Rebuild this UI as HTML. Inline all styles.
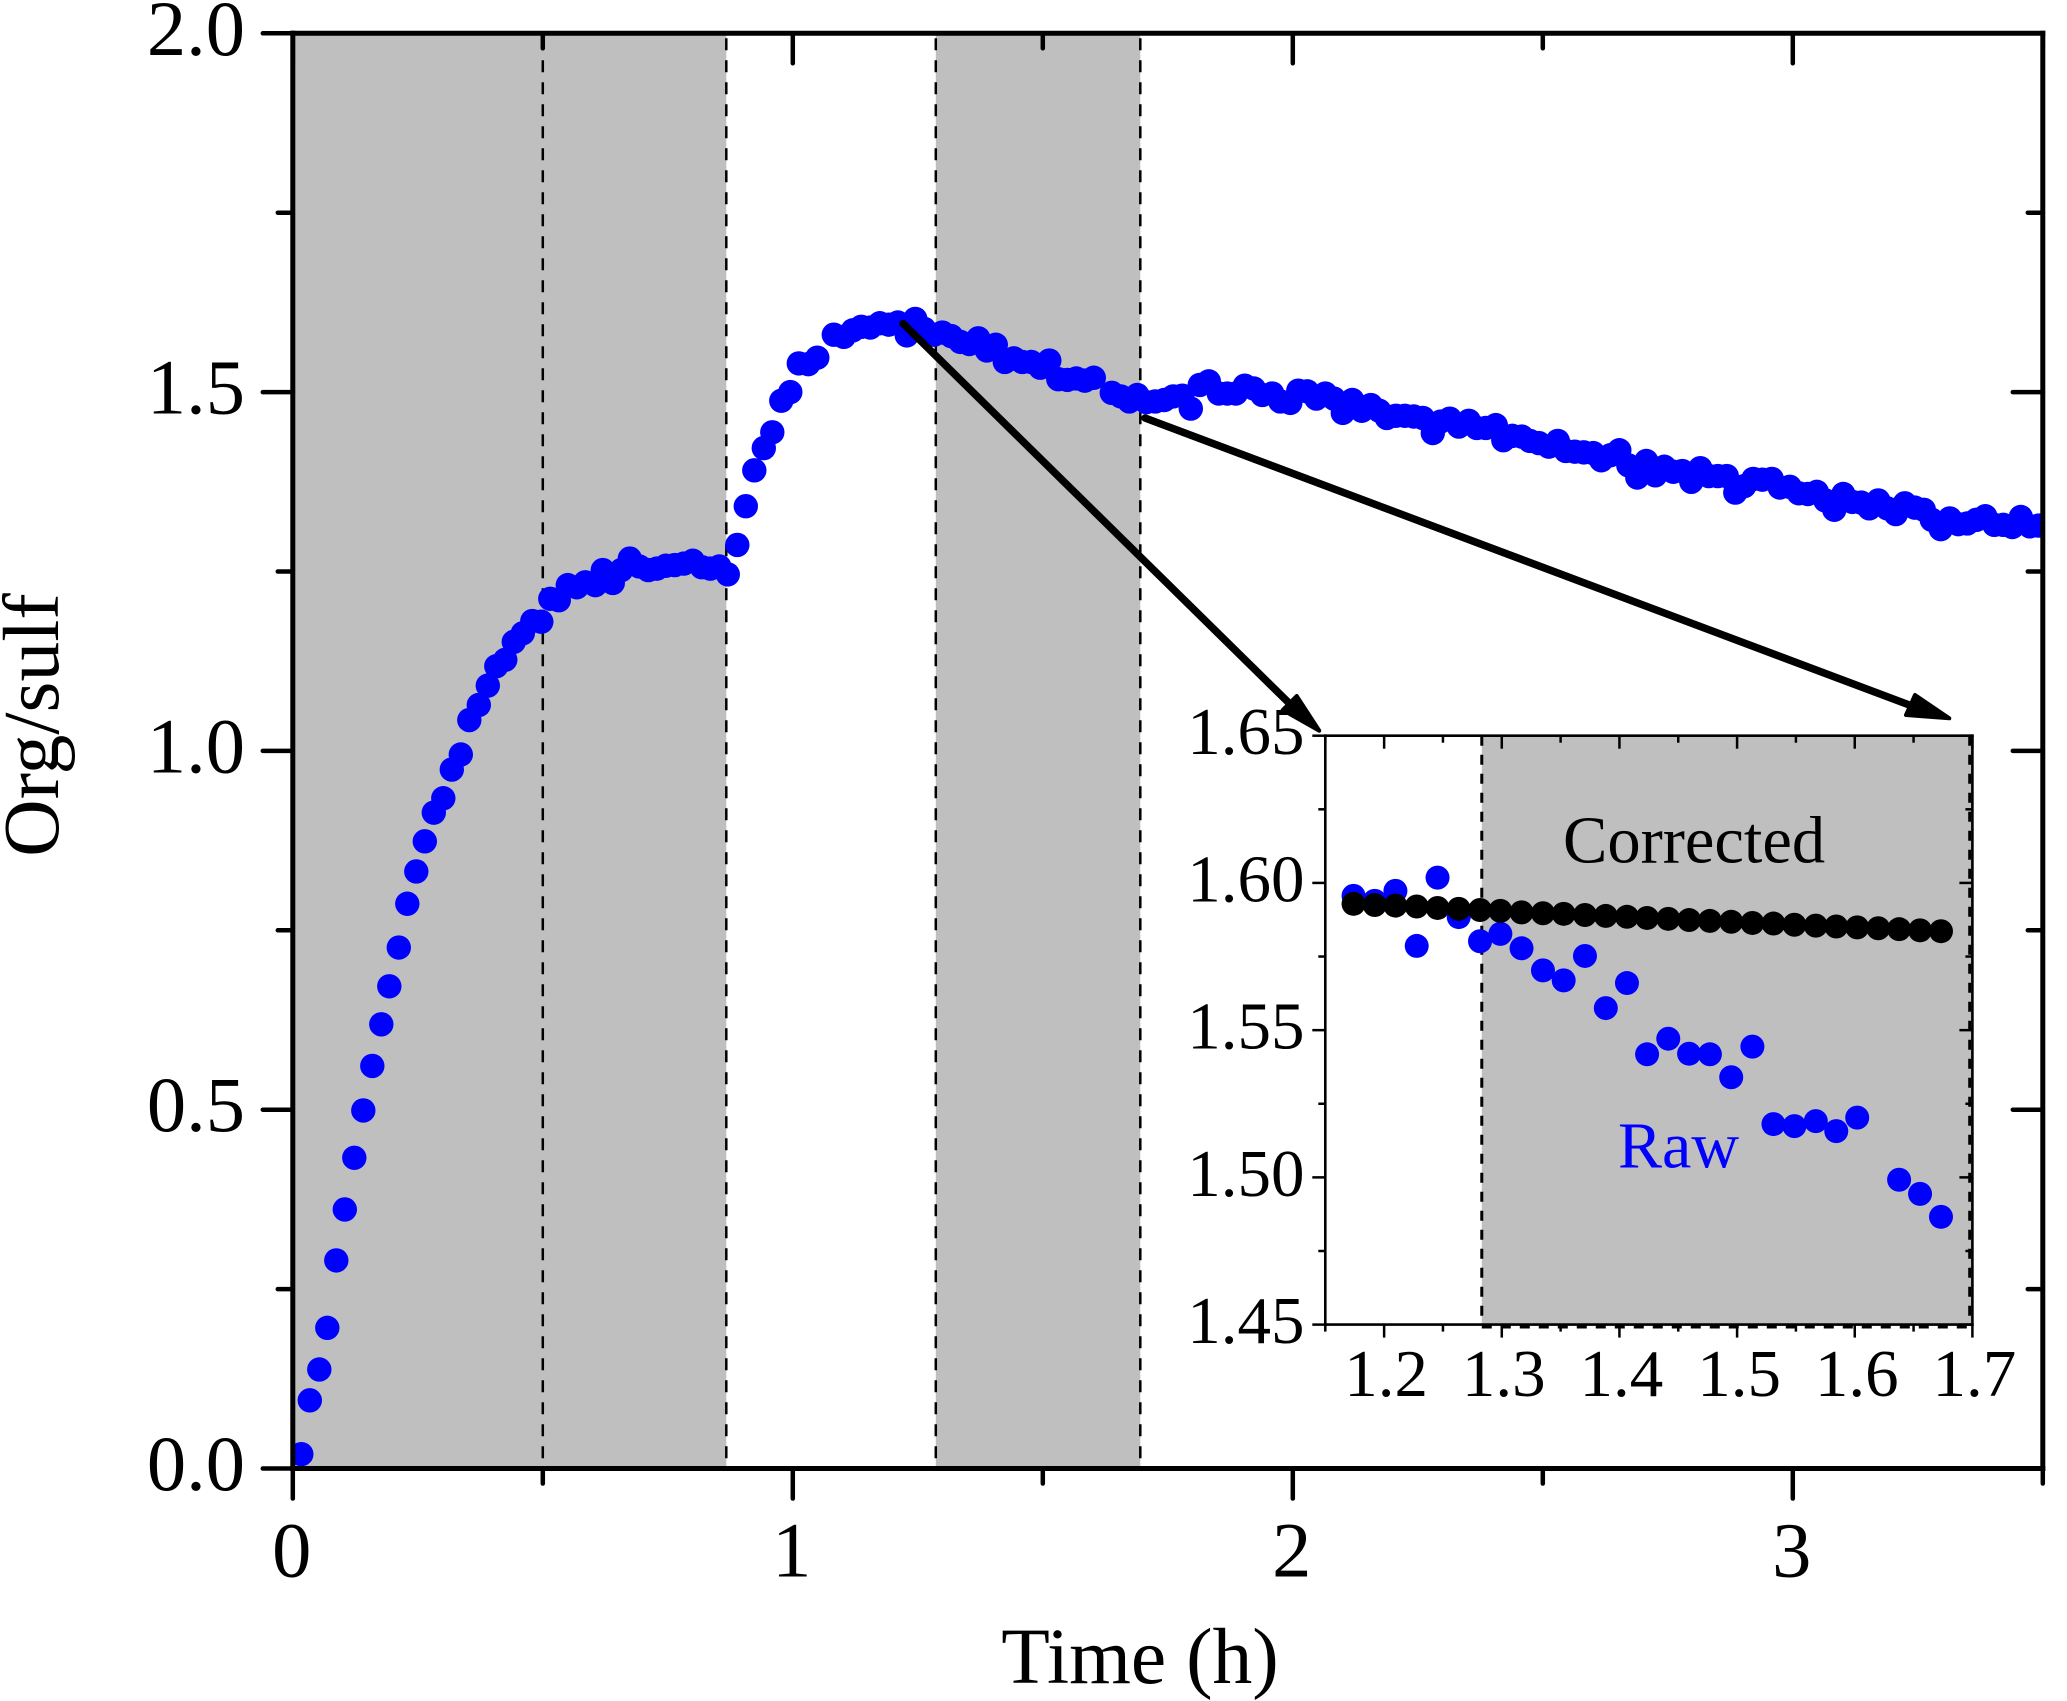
<!DOCTYPE html>
<html lang="en">
<head>
<meta charset="utf-8">
<title>Org/sulf vs Time</title>
<style>
html,body{margin:0;padding:0;background:#fff;}
svg{display:block;font-family:"Liberation Serif",serif;}
</style>
</head>
<body>
<svg id="chart" xmlns="http://www.w3.org/2000/svg" width="2067" height="1701" viewBox="0 0 2067 1701">
  <defs>
    <clipPath id="main-clip"><rect x="292.8" y="33.3" width="1750" height="1435.2"/></clipPath>
  </defs>
  <g id="main-shading"></g>
  <g id="main-dots" clip-path="url(#main-clip)"></g>
  <g id="main-axes"></g>
  <g id="inset-shading"></g>
  <g id="inset-raw"></g>
  <g id="inset-corrected"></g>
  <g id="inset-axes"></g>
  <g>
    <line x1="903" y1="323.5" x2="1292" y2="706" stroke="#000" stroke-width="7.5" stroke-linecap="round"/>
    <polygon points="1319.3,730.7 1296.7,696 1282.7,710" fill="#000" stroke="#000" stroke-width="4" stroke-linejoin="round"/>
  </g>
  <g>
    <line x1="1145" y1="418" x2="1912" y2="706" stroke="#000" stroke-width="7.5" stroke-linecap="round"/>
    <polygon points="1949.3,718.3 1915,695 1906,715" fill="#000" stroke="#000" stroke-width="4" stroke-linejoin="round"/>
  </g>
  <text x="1140" y="1683" font-size="79.5" text-anchor="middle" fill="#000">Time (h)</text>
  <text transform="translate(58 725) rotate(-90)" font-size="79.5" text-anchor="middle" fill="#000">Org/sulf</text>
  <text x="1563" y="862.7" font-size="66.5" fill="#000">Corrected</text>
  <text x="1618" y="1167.7" font-size="66" fill="#0000ff">Raw</text>
</svg>
<script>
// ---- main chart data ----
const mainTimes = [
  0.017,0.034,0.053,0.069,0.087,0.104,0.123,0.141,0.159,0.177,
  0.193,0.212,0.229,0.247,0.264,0.282,0.301,0.318,0.336,0.353,
  0.372,0.390,0.407,0.425,0.442,0.460,0.479,0.497,0.515,0.532,
  0.550,0.568,0.585,0.605,0.620,0.640,0.657,0.674,0.693,0.711,
  0.728,0.746,0.764,0.782,0.800,0.818,0.835,0.853,0.870,0.889,
  0.906,0.923,0.942,0.959,0.977,0.995,1.012,1.031,1.049,1.082,
  1.102,1.120,1.137,1.155,1.174,1.192,1.210,1.228,1.245,1.263,
  1.282,1.299,1.317,1.335,1.353,1.371,1.388,1.406,1.424,1.442,
  1.459,1.477,1.495,1.513,1.531,1.549,1.567,1.584,1.602,1.638,
  1.656,1.673,1.689,1.707,1.725,1.743,1.761,1.779,1.796,1.814,
  1.832,1.852,1.869,1.886,1.904,1.922,1.939,1.959,1.975,1.995,
  2.011,2.029,2.047,2.065,2.082,2.100,2.119,2.138,2.156,2.173,
  2.188,2.206,2.224,2.242,2.260,2.280,2.296,2.314,2.332,2.352,
  2.368,2.386,2.406,2.421,2.439,2.458,2.474,2.492,2.512,2.530,
  2.546,2.564,2.582,2.601,2.617,2.635,2.653,2.671,2.689,2.707,
  2.725,2.743,2.761,2.779,2.797,2.815,2.832,2.850,2.868,2.885,
  2.903,2.921,2.939,2.958,2.974,2.994,3.012,3.030,3.048,3.065,
  3.083,3.101,3.119,3.137,3.153,3.171,3.189,3.206,3.224,3.244,
  3.262,3.278,3.296,3.314,3.331,3.349,3.367,3.385,3.403,3.421,
  3.439,3.456,3.474,3.492,3.510
];
const mainValues = [
  0.020,0.095,0.138,0.196,0.290,0.361,0.433,0.499,0.561,0.619,
  0.672,0.726,0.787,0.832,0.874,0.914,0.934,0.974,0.995,1.043,
  1.064,1.091,1.118,1.127,1.152,1.164,1.181,1.180,1.212,1.210,
  1.231,1.228,1.235,1.231,1.252,1.234,1.252,1.268,1.257,1.252,
  1.254,1.258,1.259,1.261,1.265,1.256,1.254,1.257,1.246,1.287,
  1.341,1.391,1.422,1.444,1.488,1.500,1.540,1.539,1.548,1.580,
  1.577,1.586,1.591,1.590,1.596,1.594,1.597,1.579,1.602,1.588,
  1.580,1.583,1.578,1.570,1.567,1.575,1.558,1.566,1.542,1.547,
  1.542,1.542,1.534,1.544,1.518,1.517,1.519,1.516,1.520,1.499,
  1.494,1.487,1.496,1.486,1.487,1.489,1.494,1.495,1.477,1.510,
  1.515,1.498,1.498,1.498,1.509,1.505,1.496,1.498,1.487,1.485,
  1.502,1.501,1.491,1.498,1.491,1.471,1.489,1.474,1.482,1.474,
  1.464,1.467,1.467,1.466,1.464,1.443,1.459,1.463,1.452,1.460,
  1.450,1.450,1.454,1.433,1.439,1.438,1.432,1.429,1.424,1.432,
  1.418,1.417,1.416,1.415,1.405,1.412,1.419,1.398,1.381,1.404,
  1.384,1.396,1.389,1.390,1.375,1.394,1.383,1.383,1.383,1.360,
  1.369,1.379,1.378,1.379,1.367,1.368,1.359,1.358,1.361,1.349,
  1.336,1.358,1.347,1.346,1.338,1.349,1.338,1.330,1.345,1.339,
  1.336,1.322,1.309,1.324,1.316,1.317,1.322,1.327,1.315,1.315,
  1.312,1.326,1.313,1.314,1.314
];
const mainShadedStarts = [0, 1.286];
const mainShadedEnds = [0.867, 1.695];
const mainDashedTimes = [0.5, 0.867, 1.286, 1.695];
const mainXMajorTicks = [0, 1, 2, 3];
const mainXMinorTicks = [0.5, 1.5, 2.5, 3.5];
const mainYMajorTicks = [0, 0.5, 1, 1.5, 2];
const mainYMinorTicks = [0.25, 0.75, 1.25, 1.75];
const mainXTickLabels = ["0", "1", "2", "3"];
const mainYTickLabels = ["0.0", "0.5", "1.0", "1.5", "2.0"];

// ---- inset chart data ----
const insetRawTimes = [
  1.174,1.192,1.2096,1.2277,1.2454,1.2634,1.2815,1.2988,1.3168,1.335,
  1.3526,1.3707,1.3884,1.4064,1.4235,1.4415,1.4592,1.4769,1.495,1.513,
  1.5309,1.5487,1.5669,1.5843,1.6021,1.6377,1.6555,1.6733
];
const insetRawValues = [
  1.5956,1.5939,1.5973,1.5786,1.6018,1.5884,1.5802,1.5827,1.5778,1.5703,
  1.5669,1.5752,1.5575,1.566,1.5418,1.5471,1.542,1.5418,1.534,1.5444,
  1.5181,1.5174,1.5191,1.5157,1.5203,1.4992,1.4944,1.4866
];
const insetCorrectedTimes = [
  1.174,1.192,1.2096,1.2277,1.2454,1.2634,1.2815,1.2988,1.3168,1.335,
  1.3526,1.3707,1.3884,1.4064,1.4235,1.4415,1.4592,1.4769,1.495,1.513,
  1.5309,1.5487,1.5669,1.5843,1.6021,1.62,1.6377,1.6555,1.6733
];
const insetCorrectedValues = [
  1.5929,1.5925,1.5923,1.5920,1.5915,1.5912,1.5908,1.5905,1.5900,1.5897,
  1.5895,1.5891,1.5888,1.5885,1.5881,1.5878,1.5874,1.5871,1.5868,1.5864,
  1.5862,1.5858,1.5855,1.5852,1.5849,1.5846,1.5843,1.5839,1.5836
];
const insetShadeStart = [1.283];
const insetShadeEnd = [1.7];
const insetXMajorTicks = [1.2, 1.3, 1.4, 1.5, 1.6, 1.7];
const insetXMinorTicks = [1.15, 1.25, 1.35, 1.45, 1.55, 1.65];
const insetYMajorTicks = [1.45, 1.5, 1.55, 1.6, 1.65];
const insetYMinorTicks = [1.475, 1.525, 1.575, 1.625];
const insetXTickLabels = ["1.2", "1.3", "1.4", "1.5", "1.6", "1.7"];
const insetYTickLabels = ["1.45", "1.50", "1.55", "1.60", "1.65"];

// ---- axis functions ----
const NS = "http://www.w3.org/2000/svg";
const mainLeft = 292.8, mainRight = 2042.8, mainTop = 33.3, mainBottom = 1468.5;
const insetLeft = 1325.3, insetRight = 1972.4, insetTop = 735.7, insetBottom = 1324.6;
function mainX(t) { return mainLeft + (t - 0) / 3.5 * (mainRight - mainLeft); }
function mainY(v) { return mainBottom - (v - 0) / 2 * (mainBottom - mainTop); }
function insetX(t) { return insetLeft + (t - 1.15) / 0.55 * (insetRight - insetLeft); }
function insetY(v) { return insetBottom - (v - 1.45) / 0.2 * (insetBottom - insetTop); }

function shape(tag, attrs) {
  const el = document.createElementNS(NS, tag);
  for (const k in attrs) el.setAttribute(k, attrs[k]);
  return el;
}
function strokeAttrs(x1, y1, x2, y2, w, cap) {
  return { x1: x1, y1: y1, x2: x2, y2: y2, stroke: "#000", "stroke-width": w, "stroke-linecap": cap || "round" };
}

// ---- main shading ----
const mainShadingGroup = document.getElementById("main-shading");
mainShadedStarts.forEach(function (start, i) {
  const r = shape("rect", { x: mainX(start), y: mainTop, width: mainX(mainShadedEnds[i]) - mainX(start), height: mainBottom - mainTop, fill: "#bfbfbf" });
  
  
  mainShadingGroup.appendChild(r);
});
mainDashedTimes.forEach(function (t) {
  const attrs = strokeAttrs(mainX(t), mainTop + 5, mainX(t), mainBottom, 2.5, "butt");
  attrs["stroke-dasharray"] = "12 10";
  const d = shape("line", attrs);
  
  
  mainShadingGroup.appendChild(d);
});

// ---- main dots ----
const mainDotsGroup = document.getElementById("main-dots");
mainTimes.forEach(function (t, i) {
  const c = shape("circle", { cx: mainX(t), cy: mainY(mainValues[i]), r: 12.2, fill: "#0000ff" });
  
  
  mainDotsGroup.appendChild(c);
});

// ---- main axes ----
const mainAxesGroup = document.getElementById("main-axes");
[[mainLeft, mainTop, mainLeft, mainBottom], [mainRight, mainTop, mainRight, mainBottom], [mainLeft, mainTop, mainRight, mainTop], [mainLeft, mainBottom, mainRight, mainBottom]].forEach(function (s) {
  const ln = shape("line", strokeAttrs(s[0], s[1], s[2], s[3], 5, "square"));
  
  
  mainAxesGroup.appendChild(ln);
});
function mainXTick(t, len) {
  const b = shape("line", strokeAttrs(mainX(t), mainBottom, mainX(t), mainBottom + len, 4.5));
  
  
  mainAxesGroup.appendChild(b);
  const u = shape("line", strokeAttrs(mainX(t), mainTop, mainX(t), mainTop + len, 4.5));
  
  
  mainAxesGroup.appendChild(u);
}
function mainYTick(v, len) {
  const l = shape("line", strokeAttrs(mainLeft, mainY(v), mainLeft - len, mainY(v), 4.5));
  
  
  mainAxesGroup.appendChild(l);
  const r = shape("line", strokeAttrs(mainRight, mainY(v), mainRight - len, mainY(v), 4.5));
  
  
  mainAxesGroup.appendChild(r);
}
mainXMajorTicks.forEach(function (t) { mainXTick(t, 30); });
mainXMinorTicks.forEach(function (t) { mainXTick(t, 15); });
mainYMajorTicks.forEach(function (v) { mainYTick(v, 30); });
mainYMinorTicks.forEach(function (v) { mainYTick(v, 15); });
mainXMajorTicks.forEach(function (t, i) {
  const lb = shape("text", { x: mainX(t) - 1, y: mainBottom + 108, "font-size": 78.5, "text-anchor": "middle", fill: "#000" });
  lb.textContent = mainXTickLabels[i];
  
  
  mainAxesGroup.appendChild(lb);
});
mainYMajorTicks.forEach(function (v, i) {
  const lb = shape("text", { x: 245, y: mainY(v) + 21.5, "font-size": 78.5, "text-anchor": "end", fill: "#000" });
  lb.textContent = mainYTickLabels[i];
  
  
  mainAxesGroup.appendChild(lb);
});

// ---- inset shading ----
const insetShadingGroup = document.getElementById("inset-shading");
const insetBand = shape("rect", { x: insetX(insetShadeStart[0]), y: insetY(1.65), width: insetX(insetShadeEnd[0]) - insetX(insetShadeStart[0]), height: insetY(1.45) - insetY(1.65), fill: "#bfbfbf" });


insetShadingGroup.appendChild(insetBand);
const insetDashLeftAttrs = strokeAttrs(insetX(insetShadeStart[0]), insetTop, insetX(insetShadeStart[0]), insetBottom, 3, "butt");
insetDashLeftAttrs["stroke-dasharray"] = "10 9";
const insetDashLeft = shape("line", insetDashLeftAttrs);


insetShadingGroup.appendChild(insetDashLeft);
const insetDashRightAttrs = strokeAttrs(insetX(insetShadeEnd[0]) - 2.7, insetTop, insetX(insetShadeEnd[0]) - 2.7, insetBottom, 3, "butt");
insetDashRightAttrs["stroke-dasharray"] = "10 9";
const insetDashRight = shape("line", insetDashRightAttrs);


insetShadingGroup.appendChild(insetDashRight);
const insetDashBottomAttrs = strokeAttrs(insetX(insetShadeStart[0]), insetBottom + 2.4, insetX(insetShadeEnd[0]), insetBottom + 2.4, 3, "butt");
insetDashBottomAttrs["stroke-dasharray"] = "10 9";
const insetDashBottom = shape("line", insetDashBottomAttrs);


insetShadingGroup.appendChild(insetDashBottom);

// ---- inset dots ----
const insetRawGroup = document.getElementById("inset-raw");
insetRawTimes.forEach(function (t, i) {
  const c = shape("circle", { cx: insetX(t), cy: insetY(insetRawValues[i]), r: 12, fill: "#0000ff" });
  
  
  insetRawGroup.appendChild(c);
});
const insetCorrectedGroup = document.getElementById("inset-corrected");
insetCorrectedTimes.forEach(function (t, i) {
  const c = shape("circle", { cx: insetX(t), cy: insetY(insetCorrectedValues[i]), r: 12, fill: "#000" });
  
  
  insetCorrectedGroup.appendChild(c);
});

// ---- inset axes ----
const insetAxesGroup = document.getElementById("inset-axes");
[[insetLeft, insetTop, insetLeft, insetBottom], [insetRight, insetTop, insetRight, insetBottom], [insetLeft, insetTop, insetRight, insetTop], [insetLeft, insetBottom, insetRight, insetBottom]].forEach(function (s) {
  const ln = shape("line", strokeAttrs(s[0], s[1], s[2], s[3], 2.6, "square"));
  
  
  insetAxesGroup.appendChild(ln);
});
function insetXTick(t, len) {
  const b = shape("line", strokeAttrs(insetX(t), insetBottom, insetX(t), insetBottom + len, 2.5, "butt"));
  
  
  insetAxesGroup.appendChild(b);
  const u = shape("line", strokeAttrs(insetX(t), insetTop, insetX(t), insetTop + len, 2.5, "butt"));
  
  
  insetAxesGroup.appendChild(u);
}
function insetYTick(v, len) {
  const l = shape("line", strokeAttrs(insetLeft, insetY(v), insetLeft - len, insetY(v), 2.5, "butt"));
  
  
  insetAxesGroup.appendChild(l);
  const r = shape("line", strokeAttrs(insetRight, insetY(v), insetRight - len, insetY(v), 2.5, "butt"));
  
  
  insetAxesGroup.appendChild(r);
}
insetXMajorTicks.forEach(function (t) { insetXTick(t, 13); });
insetXMinorTicks.forEach(function (t) { insetXTick(t, 7); });
insetYMajorTicks.forEach(function (v) { insetYTick(v, 13); });
insetYMinorTicks.forEach(function (v) { insetYTick(v, 7); });
insetXMajorTicks.forEach(function (t, i) {
  const lb = shape("text", { x: insetX(t) + 2, y: 1396, "font-size": 67, "text-anchor": "middle", fill: "#000" });
  lb.textContent = insetXTickLabels[i];
  
  
  insetAxesGroup.appendChild(lb);
});
insetYMajorTicks.forEach(function (v, i) {
  const lb = shape("text", { x: 1304.5, y: insetY(v) + 18.5, "font-size": 67, "text-anchor": "end", fill: "#000" });
  lb.textContent = insetYTickLabels[i];
  
  
  insetAxesGroup.appendChild(lb);
});
</script>
</body>
</html>
